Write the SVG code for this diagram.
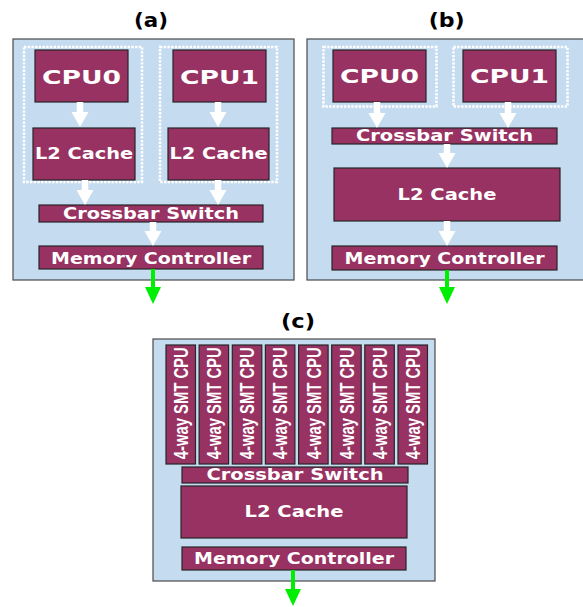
<svg xmlns="http://www.w3.org/2000/svg" width="583" height="607" viewBox="0 0 583 607">
<style>
.panel{fill:#c5dcf0;stroke:#4a4a4a;stroke-width:1.2}
.blk{fill:#983262;stroke:#262626;stroke-width:1.2}
.dot{fill:none;stroke:#ffffff;stroke-width:2.5;stroke-dasharray:2.4 1.3}
.t{fill:#ffffff;font-family:"DejaVu Sans",Verdana,sans-serif;font-weight:bold;text-anchor:middle}
.v{fill:#ffffff;font-family:"Liberation Sans",Arial,sans-serif;font-size:21px;font-weight:bold;text-anchor:middle}
.title{fill:#000000;font-family:"DejaVu Sans",Verdana,sans-serif;font-weight:bold;font-size:20px;text-anchor:middle}
.wa{stroke:#ffffff;stroke-width:6.5;fill:none}
.ga{stroke:#00ee00;stroke-width:4;fill:none}
</style>
<defs>
<marker id="wh" markerUnits="userSpaceOnUse" markerWidth="15" markerHeight="17" refX="0" refY="8.5" orient="auto" overflow="visible">
<path d="M0,0 L15,8.5 L0,17 Z" fill="#ffffff"/>
</marker>
<marker id="gh" markerUnits="userSpaceOnUse" markerWidth="17" markerHeight="16" refX="0" refY="8" orient="auto" overflow="visible">
<path d="M0,0 L17,8 L0,16 Z" fill="#00ee00"/>
</marker>
</defs>

<text class="title" x="151" y="26.5" textLength="34" lengthAdjust="spacingAndGlyphs">(a)</text>
<text class="title" x="446.7" y="26.5" textLength="36" lengthAdjust="spacingAndGlyphs">(b)</text>
<text class="title" x="298" y="327.5" textLength="34" lengthAdjust="spacingAndGlyphs">(c)</text>

<g id="panel-a">
<rect class="panel" x="13" y="39" width="281" height="241"/>
<rect class="dot" x="24" y="47" width="118" height="135"/>
<rect class="dot" x="160" y="47" width="117" height="135"/>
<g id="a-cpu0"><rect class="blk" x="35" y="50" width="93" height="52"/><text class="t" x="81.5" y="83.5" font-size="19" textLength="79" lengthAdjust="spacingAndGlyphs">CPU0</text></g>
<g id="a-cpu1"><rect class="blk" x="173" y="50" width="93" height="52"/><text class="t" x="219.5" y="83.5" font-size="19" textLength="79" lengthAdjust="spacingAndGlyphs">CPU1</text></g>
<g id="a-l2-0"><rect class="blk" x="33" y="128" width="102" height="52"/><text class="t" x="84" y="159" font-size="15" textLength="98" lengthAdjust="spacingAndGlyphs">L2 Cache</text></g>
<g id="a-l2-1"><rect class="blk" x="168" y="128" width="101" height="52"/><text class="t" x="218.5" y="159" font-size="15" textLength="98" lengthAdjust="spacingAndGlyphs">L2 Cache</text></g>
<g id="a-xbar"><rect class="blk" x="39" y="205" width="224" height="17"/><text class="t" x="151" y="219.3" font-size="15" textLength="176" lengthAdjust="spacingAndGlyphs">Crossbar Switch</text></g>
<g id="a-mc"><rect class="blk" x="39" y="246" width="224" height="23"/><text class="t" x="151" y="264" font-size="15" textLength="200" lengthAdjust="spacingAndGlyphs">Memory Controller</text></g>
</g>

<g id="panel-b">
<rect class="panel" x="307" y="39" width="282" height="241"/>
<rect class="dot" x="323.5" y="47" width="113" height="59.5"/>
<rect class="dot" x="453.5" y="47" width="114" height="59.5"/>
<g id="b-cpu0"><rect class="blk" x="333" y="50" width="93" height="52"/><text class="t" x="379.5" y="83" font-size="19" textLength="79" lengthAdjust="spacingAndGlyphs">CPU0</text></g>
<g id="b-cpu1"><rect class="blk" x="463" y="50" width="93" height="52"/><text class="t" x="509.5" y="83" font-size="19" textLength="79" lengthAdjust="spacingAndGlyphs">CPU1</text></g>
<g id="b-xbar"><rect class="blk" x="332" y="128" width="225" height="16"/><text class="t" x="444.5" y="140.7" font-size="15" textLength="177" lengthAdjust="spacingAndGlyphs">Crossbar Switch</text></g>
<g id="b-l2"><rect class="blk" x="334" y="168" width="226" height="53"/><text class="t" x="447" y="199.5" font-size="15" textLength="99" lengthAdjust="spacingAndGlyphs">L2 Cache</text></g>
<g id="b-mc"><rect class="blk" x="332" y="246" width="225" height="24"/><text class="t" x="444.5" y="263.5" font-size="15" textLength="200" lengthAdjust="spacingAndGlyphs">Memory Controller</text></g>
</g>

<g id="panel-c">
<rect class="panel" x="153" y="339" width="282" height="242"/>
<g id="c-cpu0"><rect class="blk" x="166" y="345" width="29.5" height="119"/><text class="v" transform="translate(188,403.3) rotate(-90)" textLength="112" lengthAdjust="spacingAndGlyphs">4-way SMT CPU</text></g>
<g id="c-cpu1"><rect class="blk" x="199.1" y="345" width="29.5" height="119"/><text class="v" transform="translate(221.1,403.3) rotate(-90)" textLength="112" lengthAdjust="spacingAndGlyphs">4-way SMT CPU</text></g>
<g id="c-cpu2"><rect class="blk" x="232.3" y="345" width="29.5" height="119"/><text class="v" transform="translate(254.3,403.3) rotate(-90)" textLength="112" lengthAdjust="spacingAndGlyphs">4-way SMT CPU</text></g>
<g id="c-cpu3"><rect class="blk" x="265.4" y="345" width="29.5" height="119"/><text class="v" transform="translate(287.4,403.3) rotate(-90)" textLength="112" lengthAdjust="spacingAndGlyphs">4-way SMT CPU</text></g>
<g id="c-cpu4"><rect class="blk" x="298.6" y="345" width="29.5" height="119"/><text class="v" transform="translate(320.6,403.3) rotate(-90)" textLength="112" lengthAdjust="spacingAndGlyphs">4-way SMT CPU</text></g>
<g id="c-cpu5"><rect class="blk" x="331.7" y="345" width="29.5" height="119"/><text class="v" transform="translate(353.7,403.3) rotate(-90)" textLength="112" lengthAdjust="spacingAndGlyphs">4-way SMT CPU</text></g>
<g id="c-cpu6"><rect class="blk" x="364.8" y="345" width="29.5" height="119"/><text class="v" transform="translate(386.8,403.3) rotate(-90)" textLength="112" lengthAdjust="spacingAndGlyphs">4-way SMT CPU</text></g>
<g id="c-cpu7"><rect class="blk" x="398" y="345" width="29.5" height="119"/><text class="v" transform="translate(420,403.3) rotate(-90)" textLength="112" lengthAdjust="spacingAndGlyphs">4-way SMT CPU</text></g>
<g id="c-xbar"><rect class="blk" x="182" y="467" width="226" height="16"/><text class="t" x="295" y="479.5" font-size="15" textLength="177" lengthAdjust="spacingAndGlyphs">Crossbar Switch</text></g>
<g id="c-l2"><rect class="blk" x="181" y="486" width="226" height="52"/><text class="t" x="294" y="517" font-size="15" textLength="99" lengthAdjust="spacingAndGlyphs">L2 Cache</text></g>
<g id="c-mc"><rect class="blk" x="182" y="547" width="224" height="23"/><text class="t" x="294" y="563.5" font-size="15" textLength="200" lengthAdjust="spacingAndGlyphs">Memory Controller</text></g>
</g>

<g id="connectors">
<line class="wa" x1="80" y1="102" x2="80" y2="112" marker-end="url(#wh)"/>
<line class="wa" x1="218" y1="102" x2="218" y2="112" marker-end="url(#wh)"/>
<line class="wa" x1="85" y1="180" x2="85" y2="190" marker-end="url(#wh)"/>
<line class="wa" x1="218" y1="180" x2="218" y2="190" marker-end="url(#wh)"/>
<line class="wa" x1="153" y1="222" x2="153" y2="231" marker-end="url(#wh)"/>
<line class="ga" x1="153" y1="269" x2="153" y2="287" marker-end="url(#gh)"/>
<line class="wa" x1="377" y1="102" x2="377" y2="113" marker-end="url(#wh)"/>
<line class="wa" x1="508" y1="102" x2="508" y2="113" marker-end="url(#wh)"/>
<line class="wa" x1="447" y1="144" x2="447" y2="153" marker-end="url(#wh)"/>
<line class="wa" x1="447" y1="221" x2="447" y2="231" marker-end="url(#wh)"/>
<line class="ga" x1="447" y1="270" x2="447" y2="287" marker-end="url(#gh)"/>
<line class="ga" x1="293" y1="570" x2="293" y2="589" marker-end="url(#gh)"/>
</g>
</svg>
